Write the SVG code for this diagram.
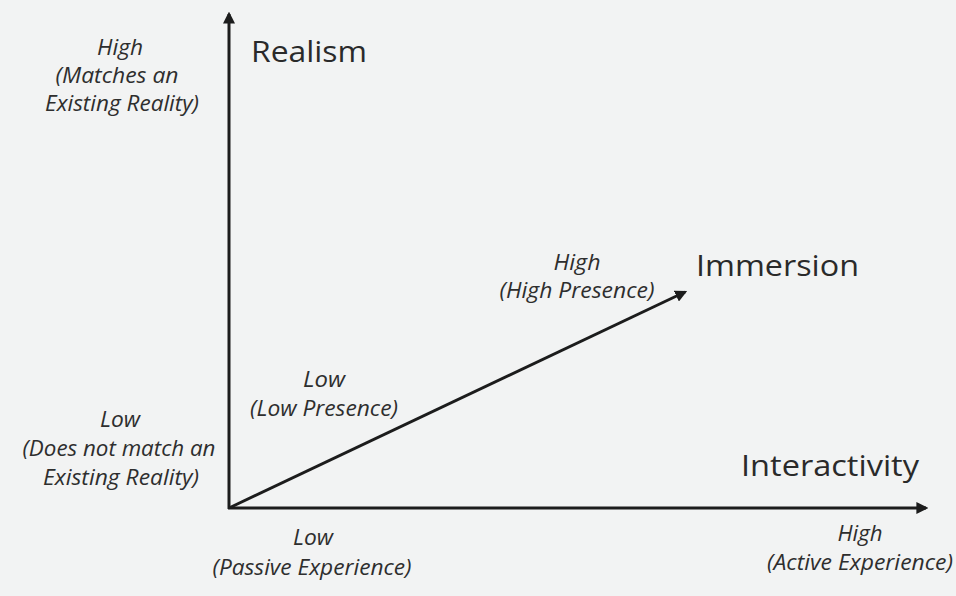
<svg xmlns="http://www.w3.org/2000/svg" width="956" height="596" viewBox="0 0 956 596">
<style>
.bg{fill:#f2f3f3}
.ax{stroke:#1c1c1c;stroke-width:3;fill:none}
.t{font-family:"Open Sans","Noto Sans","Liberation Sans",sans-serif;fill:#2a2a2a}
.big{font-size:29px}
.lab{font-size:21px;font-style:italic;text-anchor:middle;fill:#2e2e2e;font-weight:500}
</style>
<defs>
<marker id="ah" viewBox="0 0 10 10" refX="8" refY="5" markerWidth="4" markerHeight="4" orient="auto" markerUnits="strokeWidth">
<path d="M0,0 L10,5 L0,10 z" fill="#1c1c1c"/>
</marker>
</defs>
<rect class="bg" x="0" y="0" width="956" height="596"/>
<g id="connectors">
<line class="ax" x1="229" y1="509" x2="229" y2="14" marker-end="url(#ah)"/>
<line class="ax" x1="228" y1="508" x2="926" y2="508" marker-end="url(#ah)"/>
<line class="ax" x1="229" y1="508" x2="685" y2="292" marker-end="url(#ah)"/>
</g>
<g id="realism"><text class="t big" x="251" y="62" textLength="116" lengthAdjust="spacingAndGlyphs">Realism</text></g>
<g id="immersion"><text class="t big" x="696" y="276" textLength="163" lengthAdjust="spacingAndGlyphs">Immersion</text></g>
<g id="interactivity"><text class="t big" x="741" y="476" textLength="178" lengthAdjust="spacingAndGlyphs">Interactivity</text></g>
<g id="realism-high" class="t lab">
<text x="120" y="55" textLength="46" lengthAdjust="spacingAndGlyphs">High</text>
<text x="117" y="83" textLength="123" lengthAdjust="spacingAndGlyphs">(Matches an</text>
<text x="122" y="111" textLength="154" lengthAdjust="spacingAndGlyphs">Existing Reality)</text>
</g>
<g id="realism-low" class="t lab">
<text x="120" y="427" textLength="40" lengthAdjust="spacingAndGlyphs">Low</text>
<text x="119" y="456" textLength="193" lengthAdjust="spacingAndGlyphs">(Does not match an</text>
<text x="121" y="485" textLength="156" lengthAdjust="spacingAndGlyphs">Existing Reality)</text>
</g>
<g id="immersion-low" class="t lab">
<text x="324" y="387" textLength="42" lengthAdjust="spacingAndGlyphs">Low</text>
<text x="324" y="416" textLength="148" lengthAdjust="spacingAndGlyphs">(Low Presence)</text>
</g>
<g id="immersion-high" class="t lab">
<text x="577" y="270" textLength="47" lengthAdjust="spacingAndGlyphs">High</text>
<text x="577" y="298" textLength="155" lengthAdjust="spacingAndGlyphs">(High Presence)</text>
</g>
<g id="interactivity-low" class="t lab">
<text x="313" y="545" textLength="40" lengthAdjust="spacingAndGlyphs">Low</text>
<text x="312" y="575" textLength="199" lengthAdjust="spacingAndGlyphs">(Passive Experience)</text>
</g>
<g id="interactivity-high" class="t lab">
<text x="860" y="541" textLength="45" lengthAdjust="spacingAndGlyphs">High</text>
<text x="860" y="570" textLength="186" lengthAdjust="spacingAndGlyphs">(Active Experience)</text>
</g>
</svg>
